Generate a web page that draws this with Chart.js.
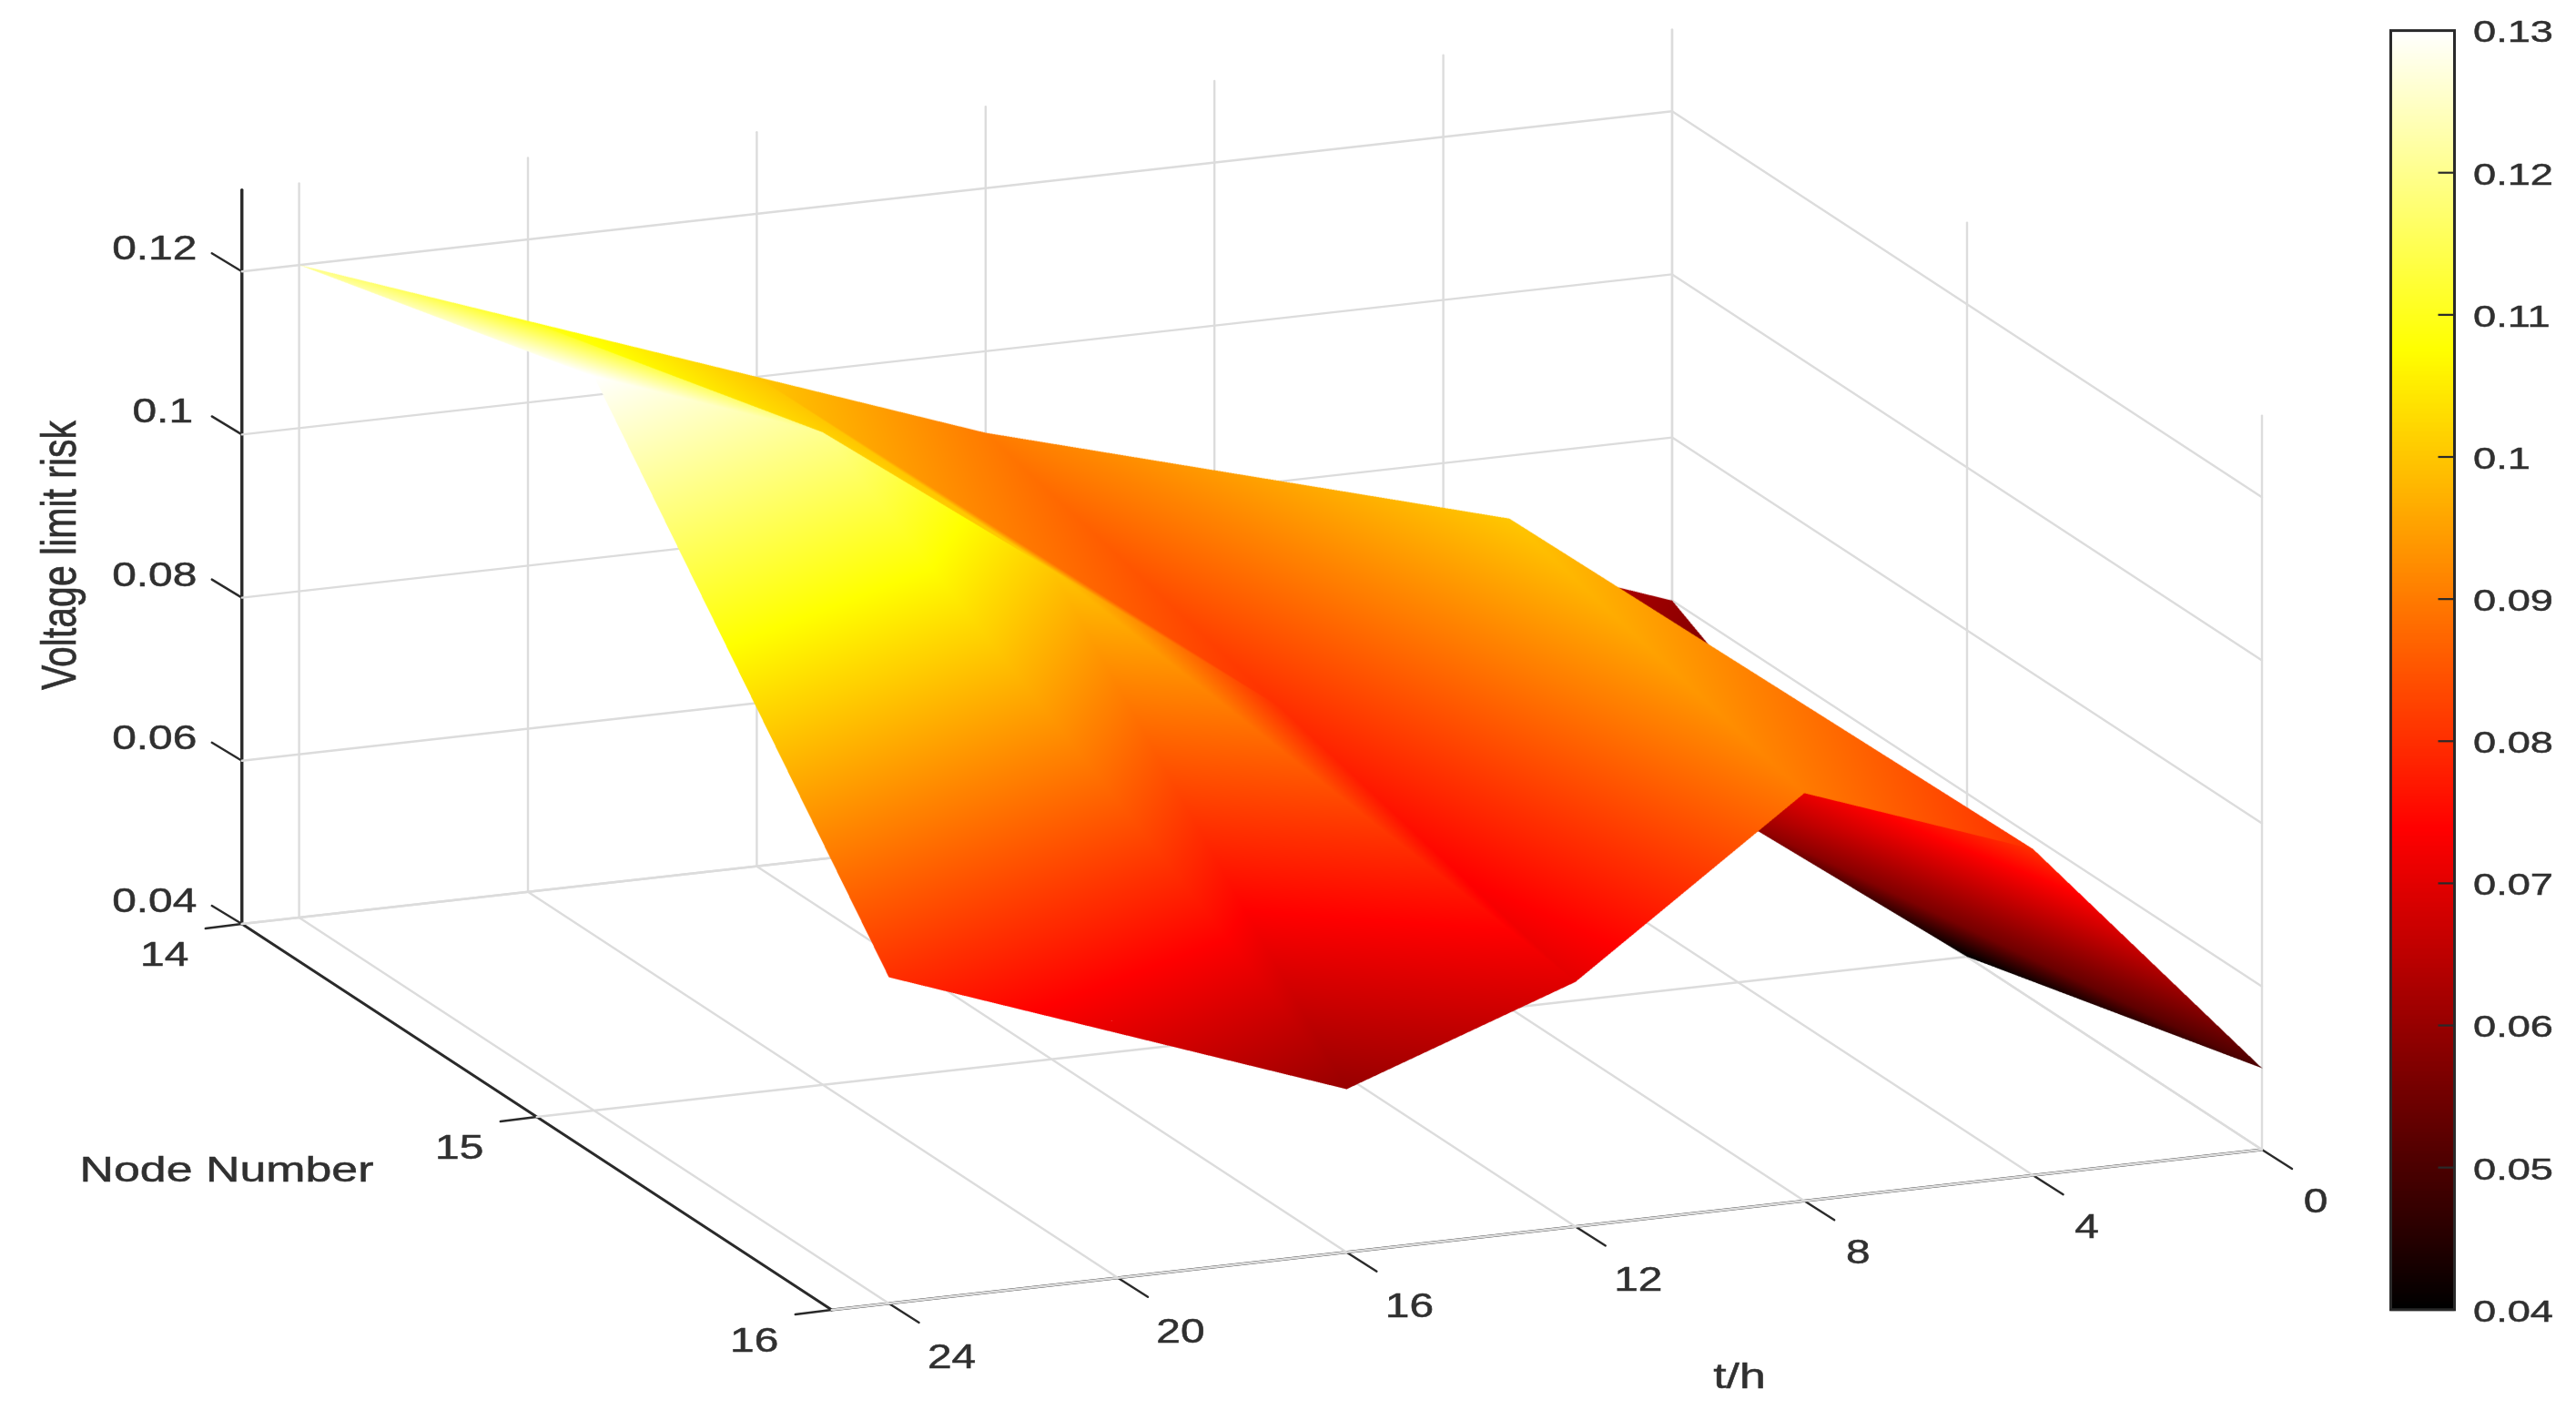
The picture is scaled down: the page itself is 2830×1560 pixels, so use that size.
<!DOCTYPE html>
<html>
<head>
<meta charset="utf-8">
<title>Voltage limit risk surface</title>
<script src="https://cdn.jsdelivr.net/npm/chart.js@4/dist/chart.umd.min.js"></script>
<style>
html,body{margin:0;padding:0;background:#fff;}
canvas{display:block;filter:blur(0.7px);}
</style>
</head>
<body>
<canvas id="c" width="2830" height="1560"></canvas>
<script>
// ---------- data ----------
const hours = [0, 4, 8, 12, 16, 20, 24];
const nodeNumbers = [14, 15, 16];
const riskNode14 = [0.06, 0.07, 0.08, 0.09, 0.10, 0.11, 0.12];
const riskNode15 = [0.04, 0.06, 0.10, 0.08, 0.10, 0.12, 0.13];
const riskNode16 = [0.05, 0.08, 0.09, 0.07, 0.06, 0.07, 0.08];
const hourTicks = [0, 4, 8, 12, 16, 20, 24];
const nodeTicks = [14, 15, 16];
const riskTicks = [0.04, 0.06, 0.08, 0.1, 0.12];
const colorbarTicks = [0.04, 0.05, 0.06, 0.07, 0.08, 0.09, 0.1, 0.11, 0.12, 0.13];
const riskRows = [riskNode14, riskNode15, riskNode16];

// ---------- axis limits and view ----------
const hourMax = 25, riskMin = 0.04, riskMax = 0.13, colorMin = 0.04, colorMax = 0.13;
const view = {ox:1837, oy:839, hx:-62.85, hy:7.04, nx:324, ny:212, rz:8960};
function project(t, n, r){
  return {
    x: view.ox + view.hx*t + view.nx*(n-14),
    y: view.oy + view.hy*t + view.ny*(n-14) - view.rz*(r-riskMin)
  };
}
function hot(v){
  const f = Math.min(1, Math.max(0, (v-colorMin)/(colorMax-colorMin)));
  return [
    Math.round(255*Math.min(1, f/0.375)),
    Math.round(255*Math.min(1, Math.max(0, (f-0.375)/0.375))),
    Math.round(255*Math.min(1, Math.max(0, (f-0.75)/0.25)))
  ];
}
const INK = '#2a2a2a', GRID = '#dcdcdc';
const lineSets = [];
function addLine(a, b, color, width){
  lineSets.push({
    type:'scatter', showLine:true, pointRadius:0, borderColor:color, borderWidth:width,
    borderCapStyle:'round', data:[a, b], order:1
  });
}
// walls and floor grid
for (const t of hourTicks){
  addLine(project(t,14,riskMin), project(t,14,riskMax), GRID, 2.4);
  addLine(project(t,14,riskMin), project(t,16,riskMin), GRID, 2.4);
}
for (const n of nodeTicks){
  addLine(project(0,n,riskMin), project(0,n,riskMax), GRID, 2.4);
  addLine(project(0,n,riskMin), project(hourMax,n,riskMin), GRID, 2.4);
}
for (const r of riskTicks){
  addLine(project(hourMax,14,r), project(0,14,r), GRID, 2.4);
  addLine(project(0,14,r), project(0,16,r), GRID, 2.4);
}
// axes
addLine(project(hourMax,14,riskMin), project(hourMax,14,riskMax), INK, 3.4);
addLine(project(hourMax,14,riskMin), project(hourMax,16,riskMin), INK, 3);
addLine(project(hourMax,16,riskMin), project(0,16,riskMin), INK, 3);
function tickTo(p, dx, dy){ return {x:p.x+dx, y:p.y+dy}; }
for (const t of hourTicks){ const p = project(t,16,riskMin); addLine(p, tickTo(p,33,21), INK, 2.4); }
for (const n of nodeTicks){ const p = project(hourMax,n,riskMin); addLine(p, tickTo(p,-40,5), INK, 2.4); }
for (const r of riskTicks){ const p = project(hourMax,14,r); addLine(p, tickTo(p,-33,-20), INK, 2.4); }

const surfacePoints = [];
riskRows.forEach((row,i)=>row.forEach((r,j)=>surfacePoints.push(project(hours[j],nodeNumbers[i],r))));

// ---------- surface, rasterised from library pixel positions with a depth buffer ----------
const surfacePlugin = {
  id:'surface',
  afterDatasetsDraw(chart){
    const sx = chart.scales.x, sy = chart.scales.y, ctx = chart.ctx;
    const SS = 2;
    const verts = (i,j)=>{
      const n = nodeNumbers[i], t = hours[j], r = riskRows[i][j];
      const p = project(t,n,r);
      const floor = project(t,n,riskMin);
      return {
        x: sx.getPixelForValue(p.x)*SS,
        y: sy.getPixelForValue(p.y)*SS,
        r,
        d: floor.y*12.7 + (floor.y-p.y)
      };
    };
    const tris = [];
    for (let i=0;i<nodeNumbers.length-1;i++){
      for (let j=1;j<hours.length;j++){
        const a = verts(i,j), b = verts(i,j-1), c = verts(i+1,j), e = verts(i+1,j-1);
        tris.push([a,b,e],[a,c,e]);
      }
    }
    let x0=1e9,y0=1e9,x1=-1e9,y1=-1e9;
    tris.forEach(T=>T.forEach(v=>{x0=Math.min(x0,v.x);y0=Math.min(y0,v.y);x1=Math.max(x1,v.x);y1=Math.max(y1,v.y);}));
    x0=Math.floor(x0)-1;y0=Math.floor(y0)-1;x1=Math.ceil(x1)+1;y1=Math.ceil(y1)+1;
    const W=x1-x0, H=y1-y0;
    const off=document.createElement('canvas'); off.width=W; off.height=H;
    const oc=off.getContext('2d');
    const img=oc.createImageData(W,H);
    const zb=new Float64Array(W*H).fill(-Infinity);
    const lut=[]; for(let k=0;k<=2048;k++){lut.push(hot(colorMin+(colorMax-colorMin)*k/2048));}
    for(const [A,B,C] of tris){
      const den=(B.y-C.y)*(A.x-C.x)+(C.x-B.x)*(A.y-C.y);
      if(Math.abs(den)<1e-6) continue;
      const bx0=Math.max(x0,Math.floor(Math.min(A.x,B.x,C.x))), bx1=Math.min(x1-1,Math.ceil(Math.max(A.x,B.x,C.x)));
      const by0=Math.max(y0,Math.floor(Math.min(A.y,B.y,C.y))), by1=Math.min(y1-1,Math.ceil(Math.max(A.y,B.y,C.y)));
      for(let y=by0;y<=by1;y++){
        for(let x=bx0;x<=bx1;x++){
          const px=x+.5,py=y+.5;
          const u=((B.y-C.y)*(px-C.x)+(C.x-B.x)*(py-C.y))/den;
          const v=((C.y-A.y)*(px-C.x)+(A.x-C.x)*(py-C.y))/den;
          const w=1-u-v;
          if(u<0||v<0||w<0) continue;
          const d=u*A.d+v*B.d+w*C.d;
          const idx=(y-y0)*W+(x-x0);
          if(d<=zb[idx]) continue;
          zb[idx]=d;
          const val=u*A.r+v*B.r+w*C.r;
          const k=Math.round(2048*Math.min(1,Math.max(0,(val-colorMin)/(colorMax-colorMin))));
          const col=lut[k], o=idx*4;
          img.data[o]=col[0];img.data[o+1]=col[1];img.data[o+2]=col[2];img.data[o+3]=255;
        }
      }
    }
    oc.putImageData(img,0,0);
    ctx.save();
    ctx.imageSmoothingEnabled=true;
    ctx.imageSmoothingQuality='high';
    ctx.drawImage(off,x0/SS,y0/SS,W/SS,H/SS);
    ctx.restore();
  }
};

// ---------- text and colour bar ----------
const STRETCH = 1.33;
function label(ctx, text, x, y, size, rot, align){
  ctx.save();
  ctx.translate(x,y);
  ctx.scale(STRETCH,1);
  if(rot) ctx.rotate(rot);
  ctx.font = size+'px "Liberation Sans", Arial, sans-serif';
  ctx.textAlign=align||'center'; ctx.textBaseline='middle';
  ctx.fillStyle='#303030';
  ctx.strokeStyle='#303030';
  ctx.lineWidth=0.5;
  ctx.fillText(text,0,0);
  ctx.strokeText(text,0,0);
  ctx.restore();
}
const bar = {left:2626.5, right:2696.5, top:33.6, bottom:1438.8};
const annotatePlugin = {
  id:'annotate',
  afterDraw(chart){
    const ctx=chart.ctx, sx=chart.scales.x, sy=chart.scales.y;
    const at=(p,dx,dy)=>[sx.getPixelForValue(p.x)+dx, sy.getPixelForValue(p.y)+dy];
    for(const t of hourTicks){
      const [x,y]=at(project(t,16,riskMin), t>=12?69:59, t>=12?61:59);
      label(ctx,String(t),x,y,36);
    }
    for(const n of nodeTicks){
      const [x,y]=at(project(hourMax,n,riskMin), -85, 36);
      label(ctx,String(n),x,y,36);
    }
    for(const r of riskTicks){
      const off = (r===0.1)?-87:-96;
      const [x,y]=at(project(hourMax,14,r), off, -23);
      label(ctx,String(r),x,y,36);
    }
    label(ctx,'Node Number',249,1287,39);
    label(ctx,'t/h',1911,1514,39);
    label(ctx,'Voltage limit risk',68,610,41,-Math.PI/2);
    // colour bar
    const h=bar.bottom-bar.top;
    for(let i=0;i<Math.ceil(h);i++){
      const c=hot(colorMax-(colorMax-colorMin)*(i+.5)/h);
      ctx.fillStyle='rgb('+c.join(',')+')';
      ctx.fillRect(bar.left,bar.top+i,bar.right-bar.left,1.5);
    }
    ctx.strokeStyle='#2a2a2a'; ctx.lineWidth=3;
    ctx.strokeRect(bar.left,bar.top,bar.right-bar.left,h);
    const yOf=v=>bar.bottom-(v-colorMin)/(colorMax-colorMin)*h;
    ctx.lineWidth=2.2;
    for(const v of colorbarTicks){
      const y=yOf(v);
      if(v!==colorMin&&v!==colorMax){
        ctx.beginPath();ctx.moveTo(bar.right,y);ctx.lineTo(bar.right-18,y);ctx.stroke();
      }
      label(ctx,String(v),2717,y+3.5,34,0,'left');
    }
  }
};

Chart.register(surfacePlugin, annotatePlugin);
new Chart(document.getElementById('c'),{
  type:'scatter',
  data:{datasets:[
    ...lineSets,
    {label:'Voltage limit risk', data:surfacePoints, pointRadius:0, showLine:false, order:0}
  ]},
  options:{
    responsive:false, animation:false, devicePixelRatio:1,
    layout:{padding:0},
    plugins:{legend:{display:false},tooltip:{enabled:false},title:{display:false}},
    events:[],
    scales:{
      x:{type:'linear',min:0,max:2830,display:false},
      y:{type:'linear',min:0,max:1560,reverse:true,display:false}
    }
  }
});
</script>
</body>
</html>
